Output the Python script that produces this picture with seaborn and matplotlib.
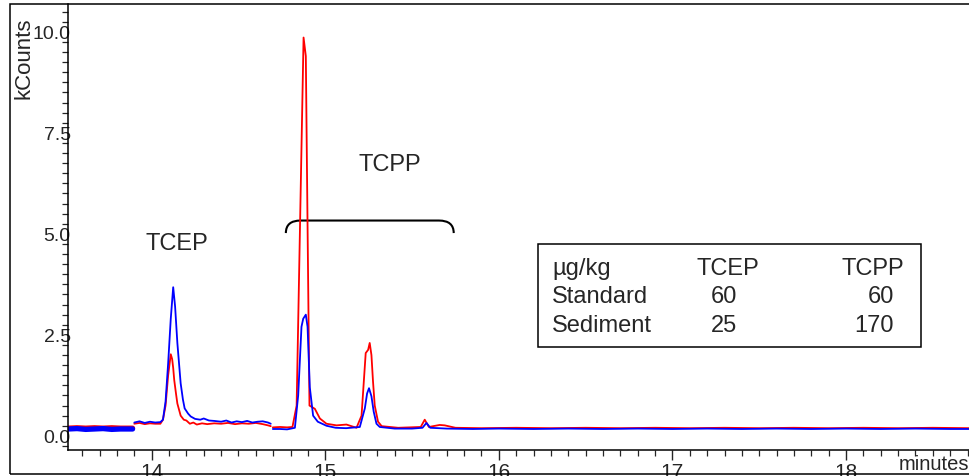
import numpy as np
import pandas as pd
import matplotlib
matplotlib.use("Agg")
import matplotlib.pyplot as plt
from matplotlib.patches import Rectangle, PathPatch
from matplotlib.path import Path
import seaborn as sns

# ---------------- data ----------------
# segment 1: dense noisy baseline (drawn as a thick band)
seg1_time = [13.52, 13.57, 13.62, 13.67, 13.72, 13.77, 13.82, 13.89]
seg1_standard = [0.17, 0.18, 0.16, 0.17, 0.18, 0.16, 0.17, 0.17]
seg1_sediment = [0.19, 0.20, 0.19, 0.20, 0.19, 0.20, 0.19, 0.19]

# segment 2: TCEP region
seg2_std_time = [13.90, 13.93, 13.96, 13.99, 14.02, 14.05, 14.065, 14.08, 14.095, 14.11,
                 14.124, 14.135, 14.148, 14.167, 14.18, 14.19, 14.21, 14.225, 14.25, 14.28,
                 14.30, 14.33, 14.36, 14.40, 14.43, 14.46, 14.49, 14.52, 14.55, 14.58,
                 14.61, 14.64, 14.67, 14.686]
seg2_std_val = [0.33, 0.36, 0.32, 0.35, 0.33, 0.34, 0.40, 0.85, 1.80, 2.90,
                3.68, 3.20, 2.30, 1.30, 0.90, 0.68, 0.55, 0.48, 0.42, 0.40,
                0.43, 0.38, 0.37, 0.35, 0.38, 0.33, 0.36, 0.34, 0.37, 0.33,
                0.35, 0.36, 0.33, 0.30]
seg2_sed_time = [13.90, 13.93, 13.96, 13.99, 14.02, 14.05, 14.065, 14.08, 14.095, 14.11,
                 14.118, 14.124, 14.13, 14.14, 14.148, 14.167, 14.185, 14.20, 14.22, 14.24,
                 14.26, 14.29, 14.32, 14.36, 14.40, 14.44, 14.48, 14.52, 14.56, 14.60,
                 14.64, 14.67, 14.686]
seg2_sed_val = [0.30, 0.32, 0.29, 0.31, 0.30, 0.30, 0.40, 0.75, 1.50, 2.02,
                1.90, 1.68, 1.38, 1.05, 0.80, 0.50, 0.40, 0.38, 0.30, 0.33,
                0.28, 0.31, 0.29, 0.31, 0.30, 0.32, 0.29, 0.31, 0.30, 0.32,
                0.29, 0.26, 0.24]

# segment 3: TCPP region and later baseline
seg3_std_time = [14.698, 14.74, 14.78, 14.825, 14.844, 14.863, 14.873, 14.888, 14.898, 14.911,
                 14.930, 14.957, 15.007, 15.06, 15.12, 15.199, 15.228, 15.241, 15.252, 15.266,
                 15.279, 15.295, 15.314, 15.40, 15.50, 15.56, 15.583, 15.605, 15.70, 15.85,
                 16.00, 16.20, 16.40, 16.60, 16.80, 17.00, 17.20, 17.40, 17.60, 17.80,
                 18.00, 18.20, 18.40, 18.60, 18.72]
seg3_std_val = [0.17, 0.17, 0.16, 0.20, 1.00, 2.70, 2.90, 3.00, 2.70, 1.20,
                0.50, 0.35, 0.25, 0.20, 0.19, 0.22, 0.68, 1.05, 1.18, 0.98,
                0.60, 0.30, 0.22, 0.18, 0.18, 0.20, 0.32, 0.20, 0.18, 0.17,
                0.18, 0.17, 0.18, 0.17, 0.18, 0.17, 0.18, 0.17, 0.18, 0.17,
                0.18, 0.17, 0.18, 0.17, 0.17]
seg3_sed_time = [14.698, 14.74, 14.78, 14.811, 14.835, 14.855, 14.875, 14.888, 14.898, 14.909,
                 14.94, 14.969, 15.007, 15.065, 15.122, 15.18, 15.209, 15.233, 15.247, 15.256,
                 15.266, 15.275, 15.285, 15.304, 15.325, 15.42, 15.55, 15.573, 15.597, 15.659,
                 15.688, 15.75, 15.90, 16.10, 16.30, 16.50, 16.70, 16.90, 17.10, 17.30,
                 17.50, 17.70, 17.90, 18.10, 18.30, 18.50, 18.72]
seg3_sed_val = [0.21, 0.22, 0.21, 0.22, 0.75, 5.30, 9.86, 9.40, 5.20, 0.75,
                0.67, 0.43, 0.30, 0.26, 0.28, 0.20, 0.50, 2.05, 2.13, 2.30,
                2.00, 1.35, 0.75, 0.35, 0.24, 0.20, 0.22, 0.40, 0.22, 0.27,
                0.26, 0.20, 0.19, 0.20, 0.19, 0.20, 0.19, 0.20, 0.19, 0.20,
                0.19, 0.20, 0.19, 0.20, 0.19, 0.20, 0.19]

samples = ["Sediment", "Standard"]
palette = {"Sediment": "#ff0000", "Standard": "#0000ff"}

table_header = ["\u00b5g/kg", "TCEP", "TCPP"]
table_rows = [["Standard", "60", "60"], ["Sediment", "25", "170"]]

peak_labels = ["TCEP", "TCPP"]

# ---------------- build tables ----------------
def seg_df(t, v, sample, seg):
    return pd.DataFrame({"time": t, "kcounts": v, "sample": sample, "segment": seg})

df_band = pd.concat([seg_df(seg1_time, seg1_sediment, "Sediment", 1),
                     seg_df(seg1_time, seg1_standard, "Standard", 1)], ignore_index=True)
df_main = pd.concat([seg_df(seg2_sed_time, seg2_sed_val, "Sediment", 2),
                     seg_df(seg3_sed_time, seg3_sed_val, "Sediment", 3),
                     seg_df(seg2_std_time, seg2_std_val, "Standard", 2),
                     seg_df(seg3_std_time, seg3_std_val, "Standard", 3)], ignore_index=True)

# ---------------- style ----------------
sns.set_style("ticks")
plt.rcParams["font.family"] = ["Liberation Sans", "DejaVu Sans"]

W, H = 970, 477
fig = plt.figure(figsize=(W / 100, H / 100), dpi=100)

def fx(px):
    return px / W

def fy(py):
    return 1 - py / H

ax = fig.add_axes([fx(68), fy(451), fx(970) - fx(68) + 0.01, fy(5) - fy(451)])

sns.lineplot(data=df_band, x="time", y="kcounts", hue="sample", hue_order=samples,
             units="segment", estimator=None, palette=palette, linewidth=3.8,
             legend=False, ax=ax, sort=False)
sns.lineplot(data=df_main, x="time", y="kcounts", hue="sample", hue_order=samples,
             units="segment", estimator=None, palette=palette, linewidth=1.3,
             legend=False, ax=ax, sort=False)

ax.set_xlim(13.518, 18.77)
ax.set_ylim(-0.35, 10.69)
ax.set_xlabel("")
ax.set_ylabel("")
for s in ["top", "right"]:
    ax.spines[s].set_visible(False)
for s in ["left", "bottom"]:
    ax.spines[s].set_linewidth(1.1)
    ax.spines[s].set_color("black")

ax.set_xticks([14, 15, 16, 17, 18])
ax.set_xticks(np.arange(13.6, 18.75, 0.1), minor=True)
ax.set_yticks([0.0, 2.5, 5.0, 7.5, 10.0])
ax.set_yticklabels(["0.0", "2.5", "5.0", "7.5", "10.0"])
ax.set_yticks(np.arange(-0.25, 10.7, 0.25), minor=True)
ax.tick_params(axis="x", which="major", length=7.5, width=1.0, labelsize=15, pad=1, direction="out")
ax.tick_params(axis="x", which="minor", length=4.5, width=0.9, direction="out")
ax.tick_params(axis="y", which="major", length=0, labelsize=14, pad=-2)
ax.tick_params(axis="y", which="minor", length=4, width=0.9, direction="out")
for lbl in ax.get_yticklabels():
    lbl.set_zorder(5)

# peak labels
ax.text(14.147, 4.78, peak_labels[0], fontsize=17, ha="center", va="center")
ax.text(15.372, 6.73, peak_labels[1], fontsize=17, ha="center", va="center")

# bracket over TCPP peaks
bx0, bx1, by_top, by_bot, bdx = 14.773, 15.740, 5.33, 5.02, 0.085
verts = [(bx0, by_bot), (bx0, by_top), (bx0 + bdx, by_top), (bx1 - bdx, by_top),
         (bx1, by_top), (bx1, by_bot)]
codes = [Path.MOVETO, Path.CURVE3, Path.CURVE3, Path.LINETO, Path.CURVE3, Path.CURVE3]
ax.add_patch(PathPatch(Path(verts, codes), fill=False, lw=1.5, color="black"))

# axis titles
fig.text(fx(24), fy(58), "kCounts", rotation=90, fontsize=16, ha="center", va="center")
fig.text(fx(969), fy(465), "minutes", fontsize=14.5, ha="right", va="center")

# table box
fig.patches.append(Rectangle((fx(538), fy(348)), fx(921) - fx(538), fy(245) - fy(348),
                             transform=fig.transFigure, fill=False, lw=1.1, color="black"))
row_y = [269, 297, 326]
fs_tab = 17
fig.text(fx(552), fy(row_y[0]), table_header[0], fontsize=fs_tab, ha="left", va="center")
fig.text(fx(728), fy(row_y[0]), table_header[1], fontsize=fs_tab, ha="center", va="center")
fig.text(fx(904), fy(row_y[0]), table_header[2], fontsize=fs_tab, ha="right", va="center")
for r, row in enumerate(table_rows):
    y = fy(row_y[r + 1])
    fig.text(fx(552), y, row[0], fontsize=fs_tab, ha="left", va="center")
    fig.text(fx(724), y, row[1], fontsize=fs_tab, ha="center", va="center")
    fig.text(fx(894), y, row[2], fontsize=fs_tab, ha="right", va="center")

# outer frame
fig.patches.append(Rectangle((fx(10), fy(475)), 1.0, fy(5) - fy(475),
                             transform=fig.transFigure, fill=False, lw=1.1, color="black"))

fig.savefig("out.png", dpi=100)
